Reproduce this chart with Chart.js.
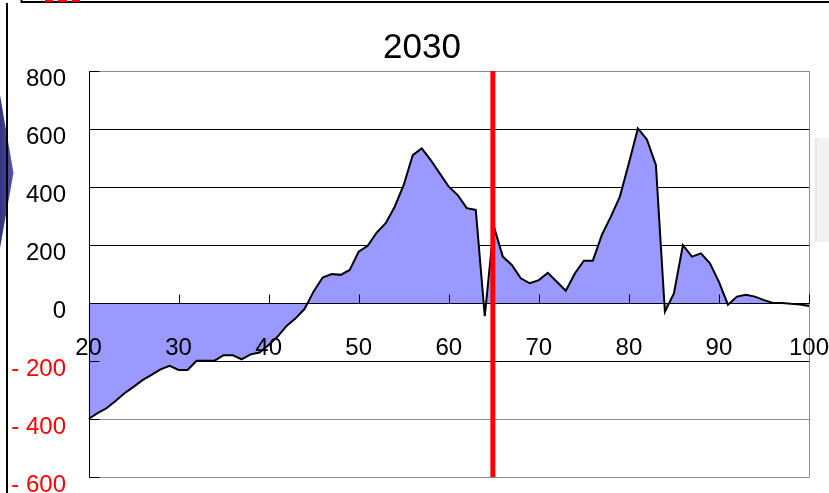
<!DOCTYPE html>
<html>
<head>
<meta charset="utf-8">
<script src="https://cdn.jsdelivr.net/npm/chart.js@4"></script>
<style>
  html, body { margin: 0; padding: 0; background: #fff; }
  canvas { display: block; }
</style>
</head>
<body>
<canvas id="chart" width="829" height="493"></canvas>
<script>
// Age axis (20 .. 100, one point per year of age)
const ages = [
  20, 21, 22, 23, 24, 25, 26, 27, 28, 29,
  30, 31, 32, 33, 34, 35, 36, 37, 38, 39,
  40, 41, 42, 43, 44, 45, 46, 47, 48, 49,
  50, 51, 52, 53, 54, 55, 56, 57, 58, 59,
  60, 61, 62, 63, 64, 65, 66, 67, 68, 69,
  70, 71, 72, 73, 74, 75, 76, 77, 78, 79,
  80, 81, 82, 83, 84, 85, 86, 87, 88, 89,
  90, 91, 92, 93, 94, 95, 96, 97, 98, 99, 100
];

// Value per age for 2030
const values2030 = [
  -400, -380, -363, -338, -311, -289, -266, -248, -229, -217,
  -231, -231, -199, -199, -199, -180, -180, -194, -177, -171,
  -145, -116,  -79,  -53,  -20,   40,   88,  100,   97,  114,
   177,  197,  243,  275,  332,  407,  510,  533,  493,  447,
   401,  372,  327,  321,  -45,  265,  160,  131,   85,   68,
    79,  104,   73,   42,  102,  146,  146,  235,  298,  367,
   482,  602,  564,  476,  -30,   33,  200,  160,  171,  137,
    73,   -6,   22,   28,   22,   10,    0,    0,   -3,   -5,  -10
];

const xTickValues = [20, 30, 40, 50, 60, 70, 80, 90, 100];
const yTickValues = [800, 600, 400, 200, 0, -200, -400, -600];
const markerAge = 64.9;
const chartTitle = '2030';

const FONT = "'Liberation Sans', Arial, Helvetica, sans-serif";

// Slide furniture around the chart (frame lines, arrow, side panel)
const slideBackdrop = {
  id: 'slideBackdrop',
  beforeDraw(chart) {
    const ctx = chart.ctx;
    const W = chart.width, H = chart.height;
    ctx.save();
    ctx.fillStyle = '#ffffff';
    ctx.fillRect(0, 0, W, H);

    // arrow shape on the left edge
    const g = ctx.createLinearGradient(0, 0, 14, 0);
    g.addColorStop(0, '#34347a');
    g.addColorStop(1, '#5a5aa6');
    ctx.fillStyle = g;
    ctx.beginPath();
    ctx.moveTo(0, 95);
    ctx.lineTo(13.5, 173);
    ctx.lineTo(0, 248);
    ctx.closePath();
    ctx.fill();

    // light panel on the right edge
    ctx.fillStyle = '#f2f2f2';
    ctx.fillRect(815, 138, W - 815, 104);
    ctx.fillStyle = '#e6e6e6';
    ctx.fillRect(815, 138, 2, 104);

    // frame lines
    ctx.strokeStyle = '#000';
    ctx.lineWidth = 2;
    ctx.beginPath();
    ctx.moveTo(7, 3);
    ctx.lineTo(7, H);
    ctx.stroke();
    ctx.beginPath();
    ctx.moveTo(21.5, 0);
    ctx.lineTo(21.5, 2);
    ctx.lineTo(W, 2);
    ctx.stroke();

    // red marks peeking in at the top
    ctx.fillStyle = '#ff0000';
    ctx.fillRect(45, 0, 8, 2);
    ctx.fillRect(58, 0, 9, 2);
    ctx.fillRect(72, 0, 8, 2);
    ctx.restore();
  }
};

// Title sits a little right of the canvas centre
const titleShift = {
  id: 'titleShift',
  afterLayout(chart) {
    const t = chart.titleBlock;
    if (t) { t.left += 12; t.right += 12; }
  }
};

// Axis lines and inside tick marks drawn over the filled area
const axisOverlay = {
  id: 'axisOverlay',
  afterDatasetDraw(chart, args) {
    if (args.index !== 0) return;
    const ctx = chart.ctx;
    const { left, right, top, bottom } = chart.chartArea;
    const xs = chart.scales.x, ys = chart.scales.y;
    const crisp = v => Math.round(v) + 0.5;
    const y0 = crisp(ys.getPixelForValue(0));
    const L = crisp(left);
    ctx.save();
    ctx.lineWidth = 1;

    ctx.strokeStyle = '#8c8c8c';
    ctx.beginPath();
    ctx.moveTo(L, crisp(top));
    ctx.lineTo(crisp(right), crisp(top));
    ctx.lineTo(crisp(right), crisp(bottom));
    ctx.lineTo(L, crisp(bottom));
    ctx.stroke();

    ctx.strokeStyle = '#000';
    ctx.beginPath();
    ctx.moveTo(L, y0);
    ctx.lineTo(crisp(right), y0);
    xs.ticks.forEach(t => {
      const px = crisp(xs.getPixelForValue(t.value));
      ctx.moveTo(px, y0);
      ctx.lineTo(px, y0 - 9);
    });
    ys.ticks.forEach(t => {
      const py = crisp(ys.getPixelForValue(t.value));
      ctx.moveTo(L, py);
      ctx.lineTo(L + 10, py);
    });
    ctx.moveTo(L, crisp(top));
    ctx.lineTo(L, crisp(bottom));
    ctx.stroke();
    ctx.restore();
  }
};

// Keep the plot area where the layout padding puts it
const noScalePadding = s => {
  s.paddingLeft = 0;
  s.paddingRight = 0;
  s.paddingTop = 0;
  s.paddingBottom = 0;
};

const yMax = Math.max(...yTickValues);
const yMin = Math.min(...yTickValues);

new Chart(document.getElementById('chart'), {
  type: 'line',
  data: {
    datasets: [
      {
        data: ages.map((a, i) => ({ x: a, y: values2030[i] })),
        fill: 'origin',
        backgroundColor: '#9999ff',
        borderColor: '#000000',
        borderWidth: 2,
        pointRadius: 0,
        tension: 0,
        order: 2
      },
      {
        data: [{ x: markerAge, y: yMax }, { x: markerAge, y: yMin }],
        fill: false,
        borderColor: '#ff0000',
        borderWidth: 5,
        borderCapStyle: 'butt',
        pointRadius: 0,
        order: 1
      }
    ]
  },
  options: {
    responsive: false,
    animation: false,
    events: [],
    layout: {
      autoPadding: false,
      padding: { left: 11, right: 20, top: 0, bottom: 16 }
    },
    plugins: {
      legend: { display: false },
      tooltip: { enabled: false },
      title: {
        display: true,
        text: chartTitle,
        color: '#000',
        font: { family: FONT, size: 35, weight: 'normal' },
        padding: { top: 27.5, bottom: 1.5 }
      }
    },
    scales: {
      x: {
        type: 'linear',
        position: { y: 0 },
        min: 20,
        max: 100,
        afterBuildTicks: s => { s.ticks = xTickValues.map(v => ({ value: v })); },
        afterFit: noScalePadding,
        grid: { display: false, drawTicks: false },
        border: { display: false },
        ticks: {
          z: 1,
          color: '#000',
          font: { family: FONT, size: 24 },
          padding: 31,
          maxRotation: 0,
          autoSkip: false
        }
      },
      y: {
        type: 'linear',
        min: yMin,
        max: yMax,
        afterBuildTicks: s => { s.ticks = yTickValues.map(v => ({ value: v })); },
        afterFit: s => { noScalePadding(s); s.width = 77.5; },
        grid: {
          drawTicks: false,
          lineWidth: 1,
          color: c => {
            const v = c.tick.value;
            if (v === yMax || v === yMin || v === -400) return '#8c8c8c';
            return '#000';
          }
        },
        border: { display: false },
        ticks: {
          font: { family: FONT, size: 24 },
          padding: 22.5,
          labelOffset: 8,
          color: c => (c.tick.value < 0 ? '#ff0000' : '#000'),
          callback: v => (v < 0 ? '- ' + Math.abs(v) : String(v))
        }
      }
    }
  },
  plugins: [slideBackdrop, titleShift, axisOverlay]
});
</script>
</body>
</html>
